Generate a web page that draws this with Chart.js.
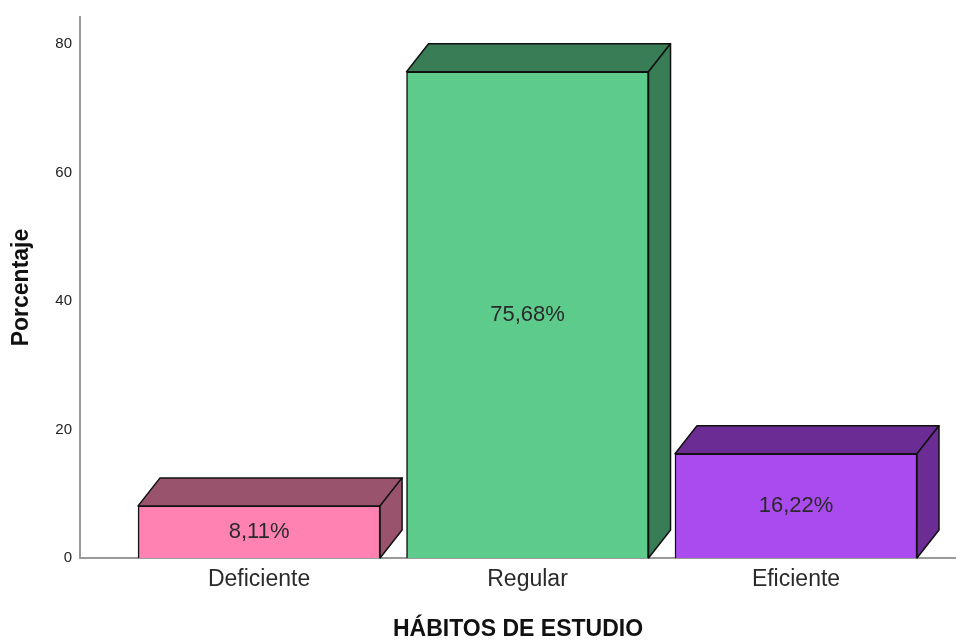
<!DOCTYPE html>
<html>
<head>
<meta charset="utf-8">
<script src="https://cdn.jsdelivr.net/npm/chart.js@4.4.1/dist/chart.umd.min.js"></script>
<style>
  html, body { margin: 0; padding: 0; background: #fff; }
  #wrap { width: 956px; height: 641px; }
</style>
</head>
<body>
<div id="wrap"><canvas id="habitosChart"></canvas></div>
<script>
// data
const categories = ['Deficiente', 'Regular', 'Eficiente'];
const percentages = [8.11, 75.68, 16.22];
const yTicks = [0, 20, 40, 60, 80];

// bar colours: front face, then top/side face
const frontColors = ['#ff82b3', '#5ccb8b', '#aa4bf0'];
const sideColors = ['#99536c', '#387d55', '#6b2c93'];

const FONT = "'Liberation Sans', Arial, sans-serif";
const DEPTH_X = 22;
const DEPTH_Y = -28;

// draws the top and right faces so the bars look like boxes, plus the value in the middle
const boxPlugin = {
    id: 'box3d',
    afterDatasetsDraw(chart) {
        const ctx = chart.ctx;
        const meta = chart.getDatasetMeta(0);
        meta.data.forEach((bar, i) => {
            const left = bar.x - bar.width / 2;
            const right = bar.x + bar.width / 2;
            const top = bar.y;
            const bottom = bar.base;

            ctx.save();
            ctx.fillStyle = sideColors[i];
            ctx.strokeStyle = '#111';
            ctx.lineWidth = 1.5;
            ctx.lineJoin = 'round';

            // top face
            ctx.beginPath();
            ctx.moveTo(left, top);
            ctx.lineTo(left + DEPTH_X, top + DEPTH_Y);
            ctx.lineTo(right + DEPTH_X, top + DEPTH_Y);
            ctx.lineTo(right, top);
            ctx.closePath();
            ctx.fill();
            ctx.stroke();

            // side face
            ctx.beginPath();
            ctx.moveTo(right, top);
            ctx.lineTo(right + DEPTH_X, top + DEPTH_Y);
            ctx.lineTo(right + DEPTH_X, bottom + DEPTH_Y);
            ctx.lineTo(right, bottom);
            ctx.closePath();
            ctx.fill();
            ctx.stroke();

            // value label
            const v = percentages[i];
            ctx.fillStyle = '#2a2a2a';
            ctx.font = '22px ' + FONT;
            ctx.textAlign = 'center';
            ctx.textBaseline = 'middle';
            ctx.fillText(v.toFixed(2).replace('.', ',') + '%', bar.x, (top + bottom) / 2);
            ctx.restore();
        });
    }
};

const points = percentages.map((v, i) => ({ x: i, y: v }));

new Chart(document.getElementById('habitosChart'), {
    type: 'bar',
    data: {
        datasets: [{
            data: points,
            backgroundColor: frontColors,
            borderColor: '#111',
            borderWidth: 1.5,
            barThickness: 242,
        }]
    },
    options: {
        responsive: true,
        maintainAspectRatio: false,
        animation: false,
        layout: { padding: { top: 14, right: 0, bottom: 0, left: 0 } },
        plugins: {
            legend: { display: false },
            tooltip: { enabled: false },
        },
        scales: {
            x: {
                type: 'linear',
                offset: false,
                min: -0.667,
                max: 2.596,
                grid: { display: false, drawTicks: false, offset: false },
                border: { display: true, color: '#9a9a9a', width: 2 },
                afterBuildTicks: scale => {
                    scale.ticks = categories.map((c, i) => ({ value: i }));
                },
                afterFit: scale => { scale.height = 83; },
                ticks: {
                    includeBounds: false,
                    padding: 8,
                    color: '#2a2a2a',
                    font: { family: FONT, size: 23 },
                    callback: value => categories[value] || '',
                },
                title: {
                    display: true,
                    text: 'HÁBITOS DE ESTUDIO',
                    color: '#111',
                    font: { family: FONT, size: 23, weight: 'bold', lineHeight: 1 },
                    padding: { top: 0, bottom: 0 },
                },
            },
            y: {
                min: 0,
                max: 84.2,
                grid: { display: false, drawTicks: false },
                border: { display: true, color: '#9a9a9a', width: 2 },
                afterBuildTicks: scale => {
                    scale.ticks = yTicks.map(v => ({ value: v }));
                },
                afterFit: scale => { scale.width = 80; },
                ticks: {
                    includeBounds: false,
                    padding: 8,
                    color: '#222',
                    font: { family: FONT, size: 15 },
                },
                title: {
                    display: true,
                    text: 'Porcentaje',
                    color: '#111',
                    font: { family: FONT, size: 23, weight: 'bold' },
                    padding: { top: 8, bottom: 20 },
                },
            },
        },
    },
    plugins: [boxPlugin],
});
</script>
</body>
</html>
